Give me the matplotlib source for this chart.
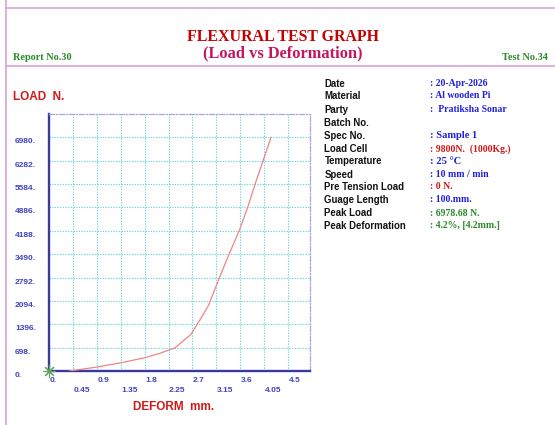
import matplotlib
matplotlib.use("Agg")
import matplotlib.pyplot as plt
from matplotlib.lines import Line2D
from matplotlib.transforms import blended_transform_factory, ScaledTranslation

# =============================================================================
# Data
# =============================================================================

# deformation (mm) vs load (N)
deform = [0.38, 0.87, 1.37, 1.81, 2.09, 2.37, 2.67, 2.82, 3.00, 3.21,
          3.39, 3.58, 3.74, 3.88, 4.03, 4.18]
load = [0, 110, 250, 400, 530, 690, 1090, 1470, 1950, 2792,
        3490, 4188, 4886, 5584, 6282, 6978.68]

x_ticks = [0, 0.45, 0.9, 1.35, 1.8, 2.25, 2.7, 3.15, 3.6, 4.05, 4.5]
x_tick_labels = ["0.", "0.45", "0.9", "1.35", "1.8", "2.25", "2.7",
                 "3.15", "3.6", "4.05", "4.5"]
y_ticks = [0, 698, 1396, 2094, 2792, 3490, 4188, 4886, 5584, 6282, 6980]
y_tick_labels = ["0.", "698.", "1396.", "2094.", "2792.", "3490.", "4188.",
                 "4886.", "5584.", "6282.", "6980."]

info_labels = ["Date", "Material", "Party", "Batch No.", "Spec No.", "Load Cell",
               "Temperature", "Speed", "Pre Tension Load", "Guage Length",
               "Peak Load", "Peak Deformation"]
info_values = [": 20-Apr-2026", ": Al wooden Pi", ":  Pratiksha Sonar", "",
               ": Sample 1", ": 9800N.  (1000Kg.)", ": 25 \u00b0C", ": 10 mm / min",
               ": 0 N.", ": 100.mm.", ": 6978.68 N.", ": 4.2%, [4.2mm.]"]

# =============================================================================
# Styling / layout
# =============================================================================

W, H = 555, 425
BLUE = "#1f1fe0"
RED = "#d01818"
GREEN = "#2a8a2a"
value_colors = [BLUE, BLUE, BLUE, BLUE, BLUE, RED, BLUE, BLUE, RED, BLUE, GREEN, GREEN]
value_sizes = [7, 7, 7, 7, 7.6, 7, 7.6, 7, 7, 7, 7, 7]
row_y_px = [84, 96, 110, 123, 135.7, 148.7, 161, 174.7, 187, 200, 213.3, 225.7]

SANS = "Liberation Sans"
SERIF = "Liberation Serif"
TICK_COLOR = "#4343c0"


def fx(px):
    return px / W


def fy(py):
    return 1 - py / H


fig = plt.figure(figsize=(W / 100, H / 100), dpi=100)
fig.patch.set_facecolor("white")

# page frame lines
frame_color = "#dba9db"
fig.add_artist(Line2D([fx(6), fx(6)], [0, 1], color=frame_color, lw=1.3))
fig.add_artist(Line2D([fx(6), 1], [fy(8), fy(8)], color=frame_color, lw=1.3))
fig.add_artist(Line2D([fx(6), 1], [fy(66), fy(66)], color=frame_color, lw=1.3))

# header
fig.text(fx(283), fy(37), "FLEXURAL TEST GRAPH", family=SERIF, weight="bold",
         size=11.4, color="#c40000", ha="center", va="center")
fig.text(fx(283), fy(53.5), "(Load vs Deformation)", family=SERIF, weight="bold",
         size=11.8, color="#c4145e", ha="center", va="center")
fig.text(fx(12.7), fy(57.5), "Report No.30", family=SERIF, weight="bold",
         size=7.4, color=GREEN, ha="left", va="center")
fig.text(fx(547.5), fy(57.5), "Test No.34", family=SERIF, weight="bold",
         size=7.4, color=GREEN, ha="right", va="center")

# axis titles
fig.text(fx(13), fy(97.5), "LOAD  N.", family=SANS, weight="bold", size=8.5,
         color=RED, ha="left", va="center")
fig.text(fx(174), fy(406.7), "DEFORM  mm.", family=SANS, weight="bold", size=8.5,
         color=RED, ha="center", va="center")

# =============================================================================
# Plot area
# =============================================================================

ax = fig.add_axes([fx(49), 1 - 371 / H, (310 - 49) / W, (371 - 114) / H])
ax.set_xlim(0, 4.914)
ax.set_ylim(0, 7678)
ax.set_xticks(x_ticks)
ax.set_yticks(y_ticks)
ax.tick_params(length=0, labelbottom=False, labelleft=False)
ax.grid(True, color="#6ad8d8", linestyle=(0, (1.2, 1.2)), linewidth=0.8)
ax.set_axisbelow(True)

for side in ("left", "bottom"):
    ax.spines[side].set_color("#3a3a9c")
    ax.spines[side].set_linewidth(1.7)
for side in ("top", "right"):
    ax.spines[side].set_color("#a6a6e2")
    ax.spines[side].set_linewidth(0.9)
    ax.spines[side].set_linestyle((0, (4, 1.5, 1, 1.5)))

ax.plot(deform, load, color="#ee8585", lw=0.9, zorder=3)
ax.plot([0], [0], marker=(8, 2, 0), markersize=9, color="#5aa55a", mew=0.8,
        clip_on=False, zorder=4)

# y tick labels, left-aligned at the page margin
ytrans = blended_transform_factory(fig.transFigure, ax.transData) + \
    ScaledTranslation(0, -0.045, fig.dpi_scale_trans)
for val, lab in zip(y_ticks, y_tick_labels):
    ax.text(fx(15), val, lab, transform=ytrans, family=SANS, weight="bold",
            size=6, color=TICK_COLOR, ha="left", va="center")

# x tick labels on two staggered rows
for i, (val, lab) in enumerate(zip(x_ticks, x_tick_labels)):
    drop = 0.097 if i % 2 == 0 else 0.19
    xtrans = blended_transform_factory(ax.transData, ax.transAxes) + \
        ScaledTranslation(0.004, -drop, fig.dpi_scale_trans)
    ax.text(val, 0, lab, transform=xtrans, family=SANS, weight="bold",
            size=6, color=TICK_COLOR, ha="left", va="center")

# =============================================================================
# Test info block
# =============================================================================

for lab, val, col, sz, yp in zip(info_labels, info_values, value_colors,
                                 value_sizes, row_y_px):
    fig.text(fx(324.5), fy(yp), lab, family=SANS, weight="bold", size=6.9,
             color="#111111", ha="left", va="center")
    if val:
        fig.text(fx(430), fy(yp), val, family=SERIF, weight="bold", size=sz,
                 color=col, ha="left", va="center")

fig.savefig("out.png", dpi=100, facecolor="white")
